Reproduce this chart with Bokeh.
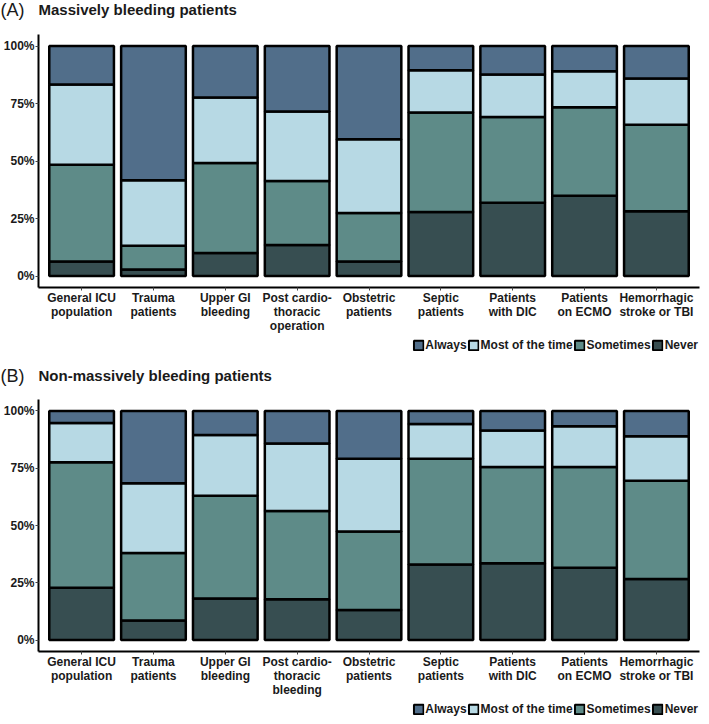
from bokeh.plotting import figure
from bokeh.models import ColumnDataSource, Range1d, FixedTicker, Legend, LegendItem, Label
from bokeh.layouts import column, row
from bokeh.embed import file_html
from bokeh.resources import INLINE

FONT = "Liberation Sans"
W = 701

# ---- data ----
labels_a = ["General ICU\npopulation", "Trauma\npatients", "Upper GI\nbleeding",
            "Post cardio-\nthoracic\noperation", "Obstetric\npatients", "Septic\npatients",
            "Patients\nwith DIC", "Patients\non ECMO", "Hemorrhagic\nstroke or TBI"]
labels_b = ["General ICU\npopulation", "Trauma\npatients", "Upper GI\nbleeding",
            "Post cardio-\nthoracic\nbleeding", "Obstetric\npatients", "Septic\npatients",
            "Patients\nwith DIC", "Patients\non ECMO", "Hemorrhagic\nstroke or TBI"]

series = ["Always", "Most of the time", "Sometimes", "Never"]
colors = {"Always": "#516e8a", "Most of the time": "#b7d9e4",
          "Sometimes": "#5e8b88", "Never": "#374e51"}

never_a = [6.3, 2.8, 10.0, 13.5, 6.3, 27.8, 31.8, 34.9, 28.1]
sometimes_a = [42.1, 10.4, 39.1, 27.8, 21.1, 43.3, 37.3, 38.5, 37.7]
most_a = [34.9, 28.4, 28.5, 30.2, 32.1, 18.4, 18.5, 15.6, 20.1]
always_a = [16.7, 58.4, 22.4, 28.5, 40.5, 10.5, 12.4, 11.0, 14.1]

never_b = [22.8, 8.5, 18.1, 17.8, 13.1, 33.0, 33.5, 31.6, 26.6]
sometimes_b = [54.8, 29.5, 44.9, 38.5, 34.3, 46.1, 42.0, 43.9, 42.9]
most_b = [17.1, 30.4, 26.5, 29.5, 31.7, 15.2, 16.0, 17.8, 19.5]
always_b = [5.3, 31.6, 10.5, 14.2, 20.9, 5.7, 8.5, 6.7, 11.0]

y_ticks = [0, 25, 50, 75, 100]
y_tick_labels = ["0%", "25%", "50%", "75%", "100%"]

STACK = ["Never", "Sometimes", "Most", "Always"]
STACK_NAMES = ["Never", "Sometimes", "Most of the time", "Always"]
STACK_COLORS = [colors[s] for s in STACK_NAMES]


def source(labels, never, sometimes, most, always):
    xs = [i + 1 for i in range(len(labels))]
    return xs, ColumnDataSource(dict(x=xs, Never=never, Sometimes=sometimes,
                                     Most=most, Always=always))


def blank(height, x_range=(0, 1), y_range=(0, 1), left=0, right=0):
    p = figure(width=W, height=height, output_backend="svg", toolbar_location=None,
               x_range=Range1d(*x_range), y_range=Range1d(*y_range),
               x_axis_location=None, y_axis_location=None,
               min_border_left=left, min_border_right=right,
               min_border_top=0, min_border_bottom=0)
    p.xgrid.visible = False
    p.ygrid.visible = False
    p.outline_line_color = None
    return p


def header(tag, title, height, yc):
    p = blank(height)
    p.add_layout(Label(x=0, y=height - yc, x_units="screen", y_units="screen",
                       text=tag, text_font=FONT, text_font_size="18px",
                       text_baseline="middle", text_color="#1a1a1a"))
    p.add_layout(Label(x=38, y=height - yc, x_units="screen", y_units="screen",
                       text=title, text_font=FONT, text_font_style="bold",
                       text_font_size="15px", text_baseline="middle",
                       text_color="#1a1a1a"))
    return p


def legend_fig(height, src, n, margin):
    p = blank(height, x_range=(0.4, n + 0.6), y_range=(1000, 1001), left=36, right=2)
    rs = p.vbar_stack(STACK, x="x", width=0.9, source=src,
                      fill_color=STACK_COLORS, line_color="black", line_width=2)
    for r in rs:
        r.visible = False  # renderers only feed the legend glyphs
    rmap = dict(zip(STACK_NAMES, rs))
    items = [LegendItem(label=s, renderers=[rmap[s]]) for s in series]
    leg = Legend(items=items, orientation="horizontal", location="top_right",
                 label_text_font=FONT, label_text_font_style="bold",
                 label_text_font_size="12px", label_text_color="#1a1a1a",
                 glyph_width=12, glyph_height=12, label_standoff=1, spacing=1,
                 padding=0, margin=margin, border_line_color=None,
                 background_fill_alpha=0, label_height=12,
                 inactive_fill_alpha=0)
    p.add_layout(leg)
    return p


def make_panel(xs, src, labels, frame_h, top, bottom):
    p = figure(width=W, height=top + frame_h + bottom, output_backend="svg",
               toolbar_location=None,
               x_range=Range1d(0.4, len(labels) + 0.6), y_range=Range1d(-5, 105),
               min_border_left=36, min_border_right=2,
               min_border_top=top, min_border_bottom=bottom)
    p.vbar_stack(STACK, x="x", width=0.9, source=src,
                 fill_color=STACK_COLORS, line_color="black", line_width=2.5)

    p.xgrid.visible = False
    p.ygrid.visible = False
    p.outline_line_color = None

    for ax in (p.xaxis[0], p.yaxis[0]):
        ax.axis_line_width = 2
        ax.axis_line_color = "black"
        ax.major_tick_in = 0
        ax.major_tick_out = 3
        ax.major_tick_line_color = "#444444"
        ax.minor_tick_line_color = None
        ax.major_label_text_font = FONT
        ax.major_label_text_font_style = "bold"
        ax.major_label_text_font_size = "12px"
        ax.major_label_text_color = "#1a1a1a"
    p.xaxis.major_label_standoff = 0
    p.yaxis.major_label_standoff = 1
    p.xaxis.major_label_text_line_height = 1.0

    p.xaxis.ticker = FixedTicker(ticks=xs)
    p.xaxis.major_label_overrides = {x: l for x, l in zip(xs, labels)}
    p.yaxis.ticker = FixedTicker(ticks=y_ticks)
    p.yaxis.major_label_overrides = {t: l for t, l in zip(y_ticks, y_tick_labels)}
    return p


xs_a, src_a = source(labels_a, never_a, sometimes_a, most_a, always_a)
xs_b, src_b = source(labels_b, never_b, sometimes_b, most_b, always_b)

head_a = header("(A)", "Massively bleeding patients", 20, 9)
pa = make_panel(xs_a, src_a, labels_a, 253, 14, 50)
leg_a = legend_fig(16, src_a, len(labels_a), 1)
head_b = header("(B)", "Non-massively bleeding patients", 33, 22)
pb = make_panel(xs_b, src_b, labels_b, 252, 13, 50)
leg_b = legend_fig(15, src_b, len(labels_b), 1)

layout = column(row(head_a), pa, leg_a, row(head_b), pb, leg_b, spacing=0)
open("out.html", "w").write(file_html(layout, INLINE))
